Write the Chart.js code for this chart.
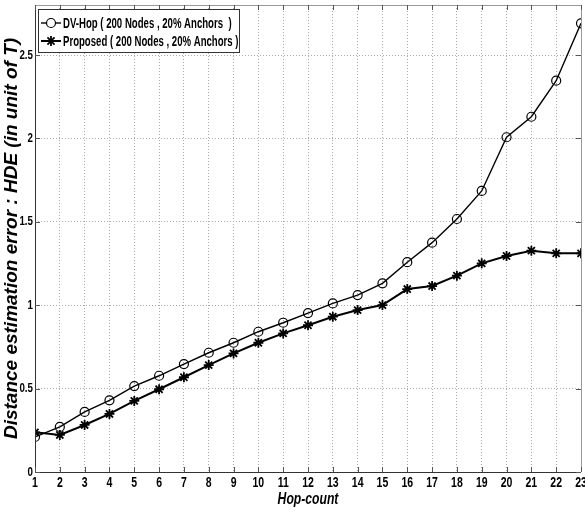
<!DOCTYPE html>
<html>
<head>
<meta charset="utf-8">
<script src="https://cdn.jsdelivr.net/npm/chart.js@4.4.1/dist/chart.umd.min.js"></script>
<style>
  html, body { margin: 0; padding: 0; background: #fff; }
  #wrap { width: 585px; height: 512px; }
</style>
</head>
<body>
<div id="wrap"><canvas id="myChart" width="585" height="512"></canvas></div>
<script>
const hops = [1, 2, 3, 4, 5, 6, 7, 8, 9, 10, 11, 12, 13, 14, 15, 16, 17, 18, 19, 20, 21, 22, 23];
const dvHop = [0.21, 0.27, 0.36, 0.43, 0.515, 0.577, 0.647, 0.715, 0.775, 0.841, 0.895, 0.953, 1.011, 1.061, 1.131, 1.258, 1.375, 1.517, 1.685, 2.007, 2.13, 2.346, 2.69];
const proposed = [0.238, 0.222, 0.282, 0.348, 0.426, 0.496, 0.568, 0.641, 0.711, 0.775, 0.831, 0.88, 0.931, 0.971, 1.001, 1.097, 1.115, 1.177, 1.251, 1.295, 1.327, 1.311, 1.311];
const yTicks = [0, 0.5, 1, 1.5, 2, 2.5];
const seriesNames = ['DV-Hop ( 200 Nodes , 20% Anchors  )', 'Proposed ( 200 Nodes , 20% Anchors )'];
const xTitle = 'Hop-count';
const yTitle = 'Distance estimation error : HDE (in unit of T)';

const sans = "'Liberation Sans', Arial, sans-serif";

// no narrow font installed, so squeeze the text horizontally
const narrowText = (ctx, text, x, y, sx) => {
    ctx.save();
    ctx.translate(x, y);
    ctx.scale(sx, 1);
    ctx.fillText(text, 0, 0);
    ctx.restore();
};

// box, inward ticks, tick labels and legend, matlab style
const boxPlugin = {
    id: 'boxPlugin',
    afterDraw(chart) {
        const { ctx, chartArea: a, scales } = chart;
        ctx.save();
        ctx.lineWidth = 1;
        ctx.strokeStyle = '#999';
        ctx.beginPath();
        ctx.moveTo(a.left, a.top + 0.5);
        ctx.lineTo(a.right + 0.5, a.top + 0.5);
        ctx.lineTo(a.right + 0.5, a.bottom);
        ctx.stroke();
        ctx.strokeStyle = '#333';
        ctx.beginPath();
        ctx.moveTo(a.left + 0.5, a.top);
        ctx.lineTo(a.left + 0.5, a.bottom + 0.5);
        ctx.lineTo(a.right, a.bottom + 0.5);
        ctx.stroke();
        // inward ticks
        ctx.strokeStyle = '#555';
        ctx.beginPath();
        hops.forEach(h => {
            const x = Math.round(scales.x.getPixelForValue(h)) + 0.5;
            ctx.moveTo(x, a.bottom); ctx.lineTo(x, a.bottom - 5);
            ctx.moveTo(x, a.top); ctx.lineTo(x, a.top + 5);
        });
        yTicks.forEach(v => {
            const y = Math.round(scales.y.getPixelForValue(v)) + 0.5;
            ctx.moveTo(a.left, y); ctx.lineTo(a.left + 5, y);
            ctx.moveTo(a.right, y); ctx.lineTo(a.right - 5, y);
        });
        ctx.stroke();

        // tick labels
        ctx.fillStyle = '#000';
        ctx.textBaseline = 'middle';
        ctx.font = 'bold 15px ' + sans;
        ctx.textAlign = 'center';
        hops.forEach(h => narrowText(ctx, String(h), scales.x.getPixelForValue(h), a.bottom + 11, 0.7));
        ctx.font = 'bold 13px ' + sans;
        ctx.textAlign = 'right';
        yTicks.forEach(v => narrowText(ctx, String(v), a.left - 2, scales.y.getPixelForValue(v), 0.75));
        ctx.font = 'italic bold 16px ' + sans;
        ctx.textAlign = 'center';
        narrowText(ctx, xTitle, (a.left + a.right) / 2, a.bottom + 28, 0.76);

        // legend
        const lx = 38, ly = 9, lw = 201, lh = 43;
        ctx.fillStyle = '#fff';
        ctx.fillRect(lx, ly, lw, lh);
        ctx.lineWidth = 1;
        ctx.strokeStyle = '#333';
        ctx.strokeRect(lx + 0.5, ly + 0.5, lw, lh);
        ctx.font = 'bold 15px ' + sans;
        ctx.textAlign = 'left';
        chart.data.datasets.forEach((ds, i) => {
            const y = ly + 14 + i * 18;
            ctx.strokeStyle = '#000';
            ctx.lineWidth = ds.borderWidth;
            ctx.beginPath();
            ctx.moveTo(lx + 3, y); ctx.lineTo(lx + 23, y);
            ctx.stroke();
            ctx.lineWidth = ds.pointBorderWidth;
            ctx.fillStyle = '#fff';
            Chart.helpers.drawPoint(ctx, {
                pointStyle: ds.pointStyle, radius: ds.pointRadius, rotation: 0, borderWidth: ds.pointBorderWidth
            }, lx + 13, y);
            ctx.fillStyle = '#000';
            narrowText(ctx, ds.label, lx + 25, y + 1, 0.64);
        });
        ctx.restore();
    }
};

const ctx = document.getElementById('myChart').getContext('2d');
const myChart = new Chart(ctx, {
    type: 'line',
    data: {
        datasets: [{
            label: seriesNames[0],
            data: hops.map((h, i) => ({ x: h, y: dvHop[i] })),
            borderColor: '#000',
            backgroundColor: '#fff',
            borderWidth: 1.4,
            pointStyle: 'circle',
            pointRadius: 4.5,
            pointBorderWidth: 1.2,
            pointBorderColor: '#000',
            pointBackgroundColor: 'rgba(255,255,255,0)',
            tension: 0
        }, {
            label: seriesNames[1],
            data: hops.map((h, i) => ({ x: h, y: proposed[i] })),
            borderColor: '#000',
            backgroundColor: '#000',
            borderWidth: 2,
            pointStyle: 'star',
            pointRadius: 5,
            pointBorderWidth: 1.8,
            pointBorderColor: '#000',
            tension: 0
        }]
    },
    options: {
        responsive: false,
        animation: false,
        layout: { autoPadding: false, padding: { top: 5, right: 4, left: 0, bottom: 0 } },
        plugins: {
            legend: { display: false },
            tooltip: { enabled: false }
        },
        scales: {
            x: {
                type: 'linear',
                min: 1,
                max: 23,
                afterBuildTicks: s => { s.ticks = hops.map(v => ({ value: v })); },
                afterFit: s => { s.height = 40; s.paddingLeft = 0; s.paddingRight = 0; },
                border: { display: false, dash: [1, 2] },
                grid: { color: '#aaa', lineWidth: 1, drawTicks: false },
                ticks: { display: false }
            },
            y: {
                min: 0,
                max: 2.8,
                afterBuildTicks: s => { s.ticks = yTicks.map(v => ({ value: v })); },
                afterFit: s => { s.width = 35; s.paddingTop = 0; s.paddingBottom = 0; },
                border: { display: false, dash: [1, 2] },
                grid: { color: '#aaa', lineWidth: 1, drawTicks: false },
                ticks: { display: false },
                title: {
                    display: true,
                    text: yTitle,
                    color: '#000',
                    padding: { top: 0, bottom: 0 },
                    font: { family: sans, size: 19, weight: 'bold', style: 'italic' }
                }
            }
        }
    },
    plugins: [boxPlugin]
});
</script>
</body>
</html>
